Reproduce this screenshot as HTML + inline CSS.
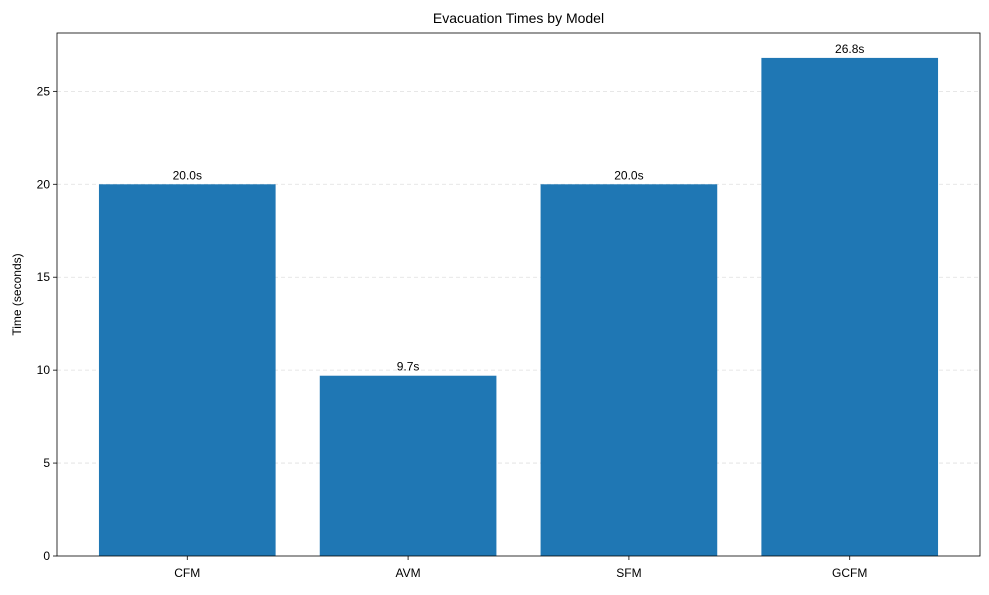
<!DOCTYPE html>
<html><head><meta charset="utf-8"><style>
body{margin:0;background:#fff;font-family:"Liberation Sans","DejaVu Sans",sans-serif;}
</style></head><body>
<svg id="chart" width="989" height="590" xmlns="http://www.w3.org/2000/svg"></svg>
<script>
const categories = ["CFM","AVM","SFM","GCFM"];
const values = [20.0, 9.7, 20.0, 26.8];
const valueLabels = ["20.0s","9.7s","20.0s","26.8s"];
const yTicks = [0,5,10,15,20,25];

const svg = document.getElementById('chart');
const NS = 'http://www.w3.org/2000/svg';
const L=57,R=980,T=33,B=556;
const yMax = Math.max(...values)*1.05;
const xMin=-0.59, xMax=categories.length-1+0.59;
const xs = v => L + (v-xMin)/(xMax-xMin)*(R-L);
const ys = v => B - v/yMax*(B-T);
function el(tag, attrs, text){
  const e=document.createElementNS(NS,tag);
  for(const k in attrs) e.setAttribute(k,attrs[k]);
  if(text!==undefined) e.textContent=text;
  svg.appendChild(e); return e;
}
yTicks.forEach(t=>{
  const y=ys(t);
  if(t>0){ const g=el('line',{x1:L,x2:R,y1:y,y2:y,stroke:'#b0b0b0','stroke-width':0.8,'stroke-dasharray':'4,3',opacity:0.4});
      }
  const tk=el('line',{x1:L-4,x2:L,y1:y,y2:y,stroke:'#000','stroke-width':0.8});
   
  const tl=el('text',{x:L-7,y:y+4,'text-anchor':'end','font-size':12,fill:'#000'},String(t));
   
});
categories.forEach((c,i)=>{
  const x0=xs(i-0.4), x1=xs(i+0.4), y=ys(values[i]);
  const r=el('rect',{x:x0,y:y,width:x1-x0,height:B-y,fill:'#1f77b4'});
   
  const vl=el('text',{x:xs(i),y:y-5,'text-anchor':'middle','font-size':12,fill:'#000'},valueLabels[i]);
   
  const tk=el('line',{x1:xs(i),x2:xs(i),y1:B,y2:B+4,stroke:'#000','stroke-width':0.8});
   
  const xl=el('text',{x:xs(i),y:B+21,'text-anchor':'middle','font-size':12,fill:'#000'},c);
   
});
const fr=el('rect',{x:L,y:T,width:R-L,height:B-T,fill:'none',stroke:'#000','stroke-width':0.8});
 
const tt=el('text',{x:(L+R)/2,y:T-10,'text-anchor':'middle','font-size':14,fill:'#000'},'Evacuation Times by Model');
 
const yt=el('text',{x:0,y:0,'text-anchor':'middle','font-size':12,fill:'#000',transform:`translate(21,${(T+B)/2}) rotate(-90)`},'Time (seconds)');
 
</script>
</body></html>
